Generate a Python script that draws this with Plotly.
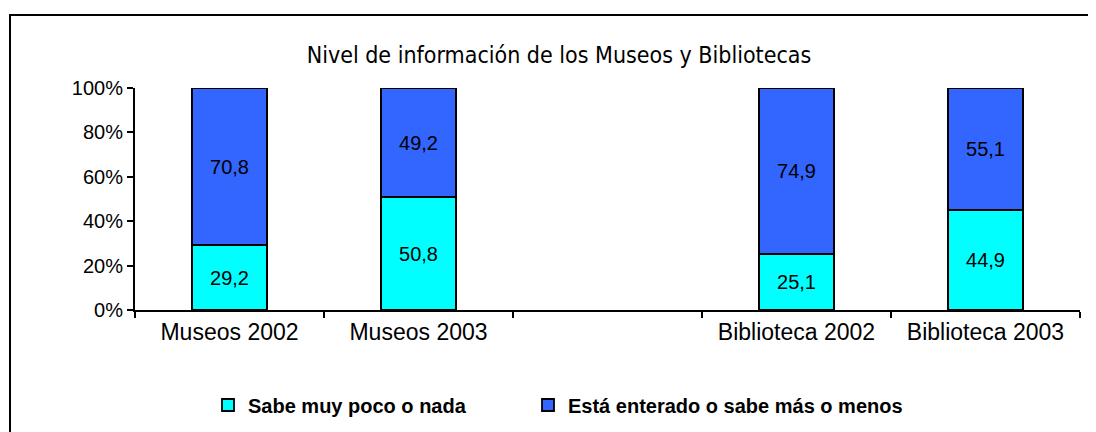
import plotly.graph_objects as go

# chart data
categories = ["Museos 2002", "Museos 2003", " ", "Biblioteca 2002", "Biblioteca 2003"]
sabe_poco = [29.2, 50.8, None, 25.1, 44.9]
enterado = [70.8, 49.2, None, 74.9, 55.1]
series_names = ["Sabe muy poco o nada", "Está enterado o sabe más o menos"]
tick_vals = [0, 20, 40, 60, 80, 100]
tick_text = ["0%", "20%", "40%", "60%", "80%", "100%"]

colors = ["#00FFFF", "#3366FF"]
legend_ids = ["legend", "legend2"]

# the page has an 8px body margin, so the figure is 8px smaller than the window
W, H = 1088, 424
L, T = 127, 80          # plot area left / top inside the figure
PW, PH = 945, 222       # plot area size

fig = go.Figure()
for name, vals, col, lg in zip(series_names, [sabe_poco, enterado], colors, legend_ids):
    fig.add_trace(go.Bar(
        x=categories, y=vals, name=name, legend=lg,
        marker=dict(color=col, line=dict(color="black", width=1.8)),
        texttemplate="%{y:.1f}", textposition="inside",
        insidetextanchor="middle",
        textfont=dict(family="Liberation Sans", size=20, color="black"),
        width=0.4,
    ))

legend_font = dict(family="Liberation Sans", size=20, color="black", weight="bold")
fig.update_layout(
    width=W, height=H,
    barmode="stack",
    separators=",.",
    plot_bgcolor="white", paper_bgcolor="white",
    margin=dict(l=L, r=W - L - PW, t=T, b=H - T - PH),
    title=dict(text="Nivel de información de los Museos y Bibliotecas",
               x=551 / W, xref="container", y=1 - 47 / H, yref="container",
               xanchor="center", yanchor="middle",
               font=dict(family="DejaVu Sans Condensed", size=23, color="black")),
    legend=dict(orientation="h", xref="container", x=200 / W, xanchor="left",
                yref="container", y=1 - 397 / H, yanchor="middle",
                font=legend_font, itemwidth=30),
    legend2=dict(orientation="h", xref="container", x=520 / W, xanchor="left",
                 yref="container", y=1 - 397 / H, yanchor="middle",
                 font=legend_font, itemwidth=30),
    showlegend=True,
)

fig.update_yaxes(range=[0, 100], tickvals=tick_vals, ticktext=tick_text,
                 showgrid=False, zeroline=False,
                 showline=True, linecolor="black", linewidth=2,
                 ticks="outside", ticklen=6, tickwidth=2, tickcolor="black",
                 tickfont=dict(family="Liberation Sans", size=20, color="black"))
fig.update_xaxes(showgrid=False, showline=True, linecolor="black", linewidth=2,
                 ticks="outside", tickson="boundaries", ticklen=6, tickwidth=2,
                 tickcolor="black",
                 tickfont=dict(family="Liberation Sans", size=23, color="black"))

# outer chart border (runs off the right and bottom edges)
fig.add_shape(type="rect", xref="paper", yref="paper",
              x0=(2 - L) / PW, x1=(W + 20 - L) / PW,
              y0=-(H + 20 - T - PH) / PH, y1=(T + PH - 7) / PH,
              line=dict(color="black", width=2), fillcolor="rgba(0,0,0,0)",
              layer="below")

fig.write_html("out.html")
